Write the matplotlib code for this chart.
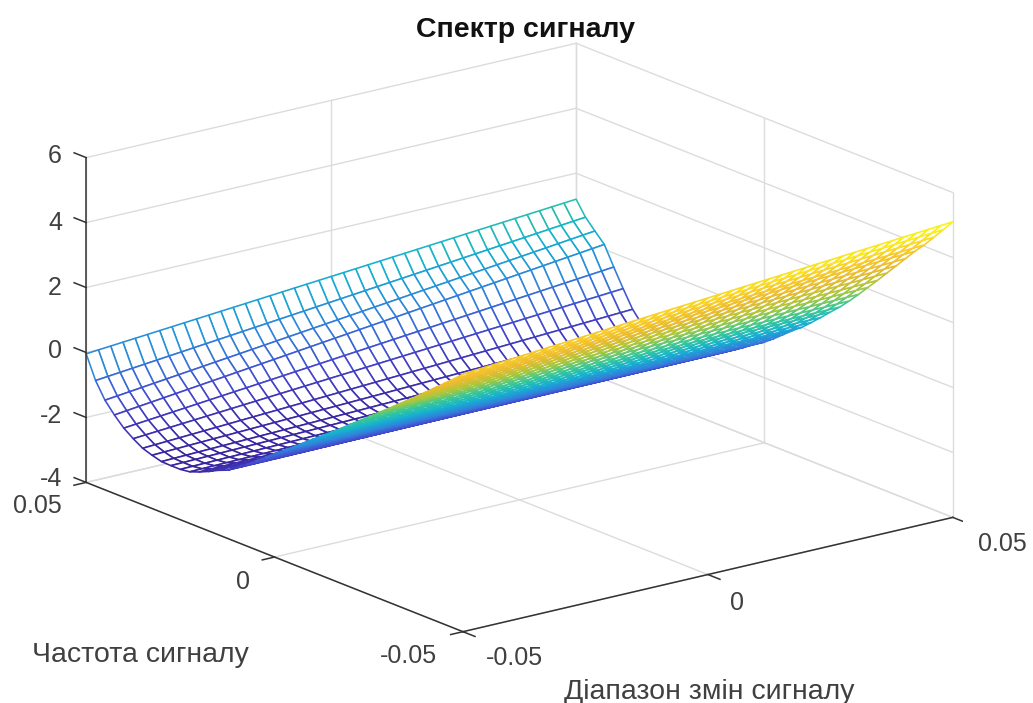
import matplotlib
matplotlib.use("Agg")
import matplotlib.pyplot as plt
import numpy as np
from matplotlib.colors import LinearSegmentedColormap, Normalize

plt.rcParams["font.family"] = ["Liberation Sans", "DejaVu Sans"]

FIG_W, FIG_H = 1033, 703

grid_x = [
    -0.05, -0.0475, -0.045, -0.0425, -0.04, -0.0375, -0.035, -0.0325, -0.03, -0.0275, -0.025,
    -0.0225, -0.02, -0.0175, -0.015, -0.0125, -0.01, -0.0075, -0.005, -0.0025, 0.0,
    0.0025, 0.005, 0.0075, 0.01, 0.0125, 0.015, 0.0175, 0.02, 0.0225, 0.025,
    0.0275, 0.03, 0.0325, 0.035, 0.0375, 0.04, 0.0425, 0.045, 0.0475, 0.05,
]
grid_y = grid_x[::-1]

# z along the frequency axis, from y=0.05 to y=-0.05, read at the two ends of x
z_near = [
    -0.04, -0.75, -1.24, -1.58, -1.87, -2.08, -2.26, -2.36, -2.44, -2.45, -2.45,
    -2.41, -2.30, -2.17, -2.02, -1.90, -1.70, -1.50, -1.28, -1.05, -0.82,
    -0.60, -0.38, -0.15, 0.08, 0.30, 0.53, 0.76, 1.00, 1.23, 1.47,
    1.70, 1.94, 2.18, 2.42, 2.66, 2.91, 3.16, 3.41, 3.66, 3.93,
]
z_far = [
    1.20, 0.76, 0.45, 0.15, -0.43, -0.98, -1.50, -1.85, -2.05, -2.15, -2.20,
    -2.20, -2.15, -2.05, -1.95, -1.80, -1.65, -1.47, -1.28, -1.08, -0.90,
    -0.68, -0.44, -0.20, 0.02, 0.28, 0.55, 0.83, 1.10, 1.40, 1.72,
    2.05, 2.38, 2.72, 3.06, 3.40, 3.74, 4.05, 4.40, 4.75, 5.10,
]

x_ticks = [-0.05, 0, 0.05]
y_ticks = [-0.05, 0, 0.05]
z_ticks = [-4, -2, 0, 2, 4, 6]
x_tick_labels = ["-0.05", "0", "0.05"]
y_tick_labels = ["-0.05", "0", "0.05"]
z_tick_labels = ["-4", "-2", "0", "2", "4", "6"]

parula = LinearSegmentedColormap.from_list(
    "parula",
    [
        (0.2200, 0.1400, 0.6200),
        (0.2700, 0.2700, 0.8000),
        (0.2000, 0.5000, 0.8600),
        (0.0800, 0.6900, 0.8200),
        (0.2161, 0.7843, 0.5923),
        (0.6720, 0.7793, 0.2227),
        (0.9184, 0.7300, 0.1890),
        (0.9763, 0.8000, 0.1500),
        (0.9769, 0.9839, 0.0805),
    ],
)


def px_text(fig, x, y, s, **kwargs):
    fig.text(x / FIG_W, 1 - y / FIG_H, s, va="center", **kwargs)


X, Y = np.meshgrid(grid_x, grid_y)
weight = (X + 0.05) / 0.1
Z = np.array(z_near)[:, None] * (1 - weight) + np.array(z_far)[:, None] * weight

fig = plt.figure(figsize=(FIG_W / 100, FIG_H / 100), dpi=100)
ax = fig.add_axes(
    [51.7 / FIG_W, -102.3 / FIG_H, 911 / FIG_W, 911 / FIG_H],
    projection="3d",
    proj_type="ortho",
    computed_zorder=False,
)
ax.set_box_aspect((617.6, 619, 341))
ax.view_init(elev=17.7, azim=-127.5)
ax.set_xlim(-0.05, 0.05)
ax.set_ylim(-0.05, 0.05)
ax.set_zlim(-4, 6)
ax.set_axis_off()

grid_style = {"color": "#dcdcdc", "linewidth": 1.0, "zorder": 1}
axis_style = {"color": "#333333", "linewidth": 1.1, "zorder": 3}

for z in z_ticks:
    ax.plot([-0.05, 0.05], [0.05, 0.05], [z, z], **grid_style)
    ax.plot([0.05, 0.05], [0.05, -0.05], [z, z], **grid_style)
for x in x_ticks:
    ax.plot([x, x], [0.05, 0.05], [-4, 6], **grid_style)
    ax.plot([x, x], [-0.05, 0.05], [-4, -4], **grid_style)
for y in y_ticks:
    ax.plot([0.05, 0.05], [y, y], [-4, 6], **grid_style)
    ax.plot([-0.05, 0.05], [y, y], [-4, -4], **grid_style)

norm = Normalize(Z.min(), Z.max())
cell_z = (Z[:-1, :-1] + Z[1:, :-1] + Z[:-1, 1:] + Z[1:, 1:]) / 4
surf = ax.plot_surface(
    X, Y, Z, rstride=1, cstride=1, color="white", shade=False, linewidth=1.15, zorder=2
)
surf.set_edgecolor(parula(norm(cell_z)).reshape(-1, 4))
surf.set_facecolor("white")

ax.plot([-0.05, -0.05], [0.05, -0.05], [-4, -4], **axis_style)
ax.plot([-0.05, 0.05], [-0.05, -0.05], [-4, -4], **axis_style)
ax.plot([-0.05, -0.05], [0.05, 0.05], [-4, 6], **axis_style)
for x in x_ticks:
    ax.plot([x, x], [-0.05, -0.0532], [-4, -4], **axis_style)
for y in y_ticks:
    ax.plot([-0.05, -0.0525], [y, y], [-4, -4], **axis_style)
for z in z_ticks:
    ax.plot([-0.05, -0.05], [0.05, 0.0532], [z, z], **axis_style)

text_color = "#404040"
px_text(fig, 525, 30, "Спектр сигналу", ha="center", fontsize=20.5, fontweight="bold", color="#111111")
px_text(fig, 140, 655, "Частота сигналу", ha="center", fontsize=20.5, color=text_color)
px_text(fig, 709, 692, "Діапазон змін сигналу", ha="center", fontsize=20.5, color=text_color)

for label, py in zip(z_tick_labels, [479, 416, 351, 288, 223, 156]):
    px_text(fig, 62, py, label, ha="right", fontsize=18, color=text_color)
for label, (px, py) in zip(x_tick_labels, [(514, 658), (737, 603), (1002, 544)]):
    px_text(fig, px, py, label, ha="center", fontsize=18, color=text_color)
for label, (px, py) in zip(y_tick_labels, [(408, 656), (243, 582), (37, 506)]):
    px_text(fig, px, py, label, ha="center", fontsize=18, color=text_color)

fig.savefig("out.png", dpi=100)
